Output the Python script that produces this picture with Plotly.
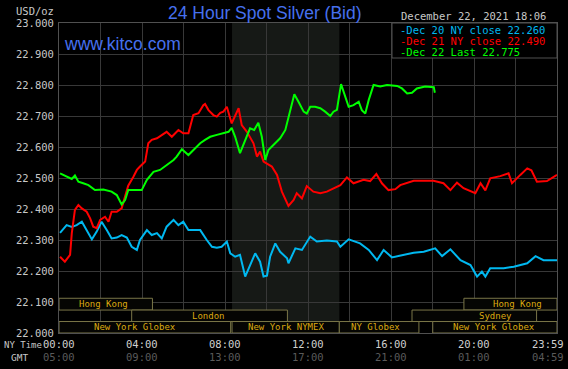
import plotly.graph_objects as go

# ---------------- data (minutes after 00:00 NY time, price USD/oz) ----------------
dec20_t = [3, 22, 37, 51, 66, 80, 95, 109, 123, 138, 152, 167, 181, 196, 210, 225, 234, 254, 268, 283,
           297, 311, 331, 345, 359, 374, 390, 408, 427, 442, 456, 470, 485, 495, 509, 523, 538, 552, 567,
           581, 591, 601, 610, 625, 639, 659, 663, 683, 702, 726, 745, 774, 803, 813, 837, 870, 895, 919,
           938, 962, 996, 1025, 1054, 1087, 1107, 1131, 1160, 1189, 1208, 1222, 1232, 1246, 1285, 1314,
           1353, 1377, 1400, 1439]
dec20_v = [22.323, 22.348, 22.342, 22.348, 22.359, 22.332, 22.302, 22.327, 22.359, 22.332, 22.305, 22.308,
           22.316, 22.308, 22.278, 22.268, 22.300, 22.332, 22.316, 22.322, 22.305, 22.343, 22.365, 22.348,
           22.359, 22.332, 22.332, 22.332, 22.300, 22.278, 22.275, 22.278, 22.295, 22.257, 22.246, 22.252,
           22.182, 22.219, 22.257, 22.230, 22.182, 22.185, 22.246, 22.289, 22.262, 22.241, 22.225, 22.273,
           22.268, 22.311, 22.295, 22.298, 22.295, 22.278, 22.302, 22.289, 22.268, 22.235, 22.268, 22.244,
           22.252, 22.259, 22.262, 22.273, 22.248, 22.270, 22.235, 22.219, 22.182, 22.198, 22.182, 22.209,
           22.209, 22.214, 22.225, 22.248, 22.235, 22.235]

dec21_t = [3, 17, 32, 37, 46, 56, 66, 80, 90, 99, 109, 119, 133, 143, 152, 167, 181, 191, 200, 215, 225,
           234, 249, 258, 268, 283, 297, 311, 326, 345, 359, 374, 388, 403, 417, 422, 432, 446, 456, 466,
           475, 485, 499, 519, 528, 543, 562, 572, 581, 591, 615, 630, 644, 663, 678, 687, 702, 716, 735,
           755, 774, 793, 813, 832, 851, 880, 899, 917, 933, 952, 972, 986, 1025, 1082, 1111, 1131, 1150,
           1169, 1203, 1218, 1232, 1246, 1275, 1299, 1309, 1333, 1353, 1365, 1381, 1410, 1439]
dec21_v = [22.246, 22.230, 22.252, 22.322, 22.397, 22.413, 22.402, 22.391, 22.370, 22.343, 22.338, 22.365,
           22.375, 22.359, 22.391, 22.391, 22.402, 22.445, 22.475, 22.504, 22.526, 22.537, 22.553, 22.612,
           22.623, 22.628, 22.639, 22.649, 22.633, 22.655, 22.644, 22.644, 22.703, 22.709, 22.735, 22.739,
           22.719, 22.703, 22.698, 22.710, 22.714, 22.730, 22.676, 22.725, 22.671, 22.649, 22.612, 22.569,
           22.585, 22.553, 22.537, 22.510, 22.456, 22.410, 22.429, 22.451, 22.434, 22.474, 22.456, 22.451,
           22.456, 22.467, 22.477, 22.502, 22.483, 22.494, 22.490, 22.513, 22.483, 22.461, 22.464, 22.477,
           22.491, 22.491, 22.483, 22.461, 22.485, 22.467, 22.451, 22.483, 22.460, 22.499, 22.506, 22.515,
           22.483, 22.510, 22.531, 22.525, 22.488, 22.490, 22.510]

dec22_t = [3, 22, 37, 46, 56, 70, 85, 104, 128, 152, 167, 181, 191, 200, 239, 254, 273, 292, 311, 331,
           340, 355, 374, 388, 408, 422, 437, 456, 475, 490, 499, 509, 523, 538, 552, 564, 576, 586, 596,
           605, 620, 639, 654, 668, 680, 692, 707, 716, 726, 740, 755, 769, 784, 793, 803, 815, 827, 837,
           851, 866, 875, 885, 895, 909, 928, 948, 977, 991, 1006, 1020, 1034, 1058, 1083, 1086]
dec22_v = [22.515, 22.505, 22.497, 22.508, 22.488, 22.483, 22.477, 22.461, 22.463, 22.456, 22.445, 22.415,
           22.429, 22.461, 22.461, 22.494, 22.520, 22.526, 22.542, 22.558, 22.569, 22.593, 22.574, 22.590,
           22.612, 22.623, 22.633, 22.639, 22.644, 22.649, 22.662, 22.633, 22.580, 22.623, 22.660, 22.655,
           22.678, 22.633, 22.558, 22.590, 22.606, 22.628, 22.655, 22.719, 22.770, 22.746, 22.714, 22.708,
           22.730, 22.730, 22.725, 22.714, 22.700, 22.714, 22.720, 22.803, 22.762, 22.730, 22.735, 22.746,
           22.719, 22.708, 22.752, 22.800, 22.795, 22.800, 22.797, 22.789, 22.773, 22.775, 22.789, 22.795,
           22.793, 22.775]

series_names = ["Dec 20 NY close 22.260", "Dec 21 NY close 22.490", "Dec 22 Last 22.775"]

y_ticks = [22.0, 22.1, 22.2, 22.3, 22.4, 22.5, 22.6, 22.7, 22.8, 22.9, 23.0]
x_grid = [0, 120, 240, 360, 480, 600, 720, 840, 960, 1080, 1200, 1320, 1439]
x_label_pos = [0, 240, 480, 720, 960, 1200, 1439]
ny_labels = ["00:00", "04:00", "08:00", "12:00", "16:00", "20:00", "23:59"]
gmt_labels = ["05:00", "09:00", "13:00", "17:00", "21:00", "01:00", "04:59"]

nymex_start, nymex_end = 500, 810

# sessions: name, start, end, row (0 top), label centre
sessions = [
    ("Hong Kong", 0, 270, 0, 130),
    ("Hong Kong", 1170, 1439, 0, 1325),
    ("London", 210, 660, 1, 431),
    ("Sydney", 1020, 1380, 1, 1261),
    ("New York Globex", 0, 496, 2, 221),
    ("New York NYMEX", 500, 810, 2, 655),
    ("NY Globex", 810, 1040, 2, 914),
    ("New York Globex", 1080, 1439, 2, 1258),
]
row_bounds = [(22.074, 22.112), (22.037, 22.074), (22.0, 22.037)]

# ---------------- styling ----------------
BG = "#000000"
GRID = "#383838"
MONO = "DejaVu Sans Mono"
LABEL = "#c8c8c8"
colors = ["#00b8f0", "#ff0000", "#00ff00"]

fig = go.Figure()
for t, v, c, n in zip([dec20_t, dec21_t, dec22_t], [dec20_v, dec21_v, dec22_v], colors, series_names):
    fig.add_trace(go.Scatter(x=t, y=v, mode="lines", line=dict(color=c, width=2), name=n,
                             showlegend=False, hoverinfo="skip"))

shapes = []
# NYMEX shaded region
shapes.append(dict(type="rect", xref="x", yref="y", x0=nymex_start, x1=nymex_end, y0=22.0, y1=23.0,
                   fillcolor="#161916", line=dict(width=0), layer="below"))
# session boxes
annotations = []
for name, s, e, row, lc in sessions:
    y0, y1 = row_bounds[row]
    shapes.append(dict(type="rect", xref="x", yref="y", x0=s, x1=e, y0=y0, y1=y1,
                       fillcolor="#050503", line=dict(color="#7a7648", width=1), layer="above"))
    annotations.append(dict(x=lc, y=(y0 + y1) / 2, xref="x", yref="y", text=name, showarrow=False,
                            font=dict(family=MONO, size=9, color="#dcaa10"), xanchor="center",
                            yanchor="middle"))

# legend box (paper coords)
W, H = 568, 369
L, R, T, B = 59, 11, 23, 36
pw, ph = W - L - R, H - T - B


def px(xp):
    return (xp - L) / pw


def py(yp):
    return 1 - (yp - T) / ph


shapes.append(dict(type="rect", xref="paper", yref="paper", x0=px(392), x1=1, y0=py(58), y1=1,
                   fillcolor=BG, line=dict(color="#505050", width=1), layer="above"))
for i, (n, c) in enumerate(zip(series_names, colors)):
    annotations.append(dict(x=px(398), y=py(30 + 11 * i), xref="paper", yref="paper", text="-" + n,
                            showarrow=False, xanchor="left", yanchor="middle",
                            font=dict(family=MONO, size=10.5, color=c)))

# titles & header texts
annotations += [
    dict(x=px(265), y=py(13), xref="paper", yref="paper", text="24 Hour Spot Silver (Bid)",
         showarrow=False, xanchor="center", yanchor="middle",
         font=dict(family="Liberation Sans", size=17.5, color="#4670ee")),
    dict(x=px(62), y=py(44), xref="paper", yref="paper", text="www.kitco.com", showarrow=False,
         xanchor="left", yanchor="middle", font=dict(family="Liberation Sans", size=17.5, color="#4670ee")),
    dict(x=px(56), y=py(11), xref="paper", yref="paper", text="USD/oz", showarrow=False,
         xanchor="right", yanchor="middle", font=dict(family=MONO, size=10.5, color=LABEL)),
    dict(x=px(548), y=py(16), xref="paper", yref="paper", text="December 22, 2021 18:06", showarrow=False,
         xanchor="right", yanchor="middle", font=dict(family=MONO, size=10.5, color=LABEL)),
    dict(x=px(2), y=py(345), xref="paper", yref="paper", text="NY Time", showarrow=False,
         xanchor="left", yanchor="middle", font=dict(family=MONO, size=9, color=LABEL)),
    dict(x=px(9), y=py(357), xref="paper", yref="paper", text="GMT", showarrow=False,
         xanchor="left", yanchor="middle", font=dict(family=MONO, size=9.5, color=LABEL)),
]
for i, (xv, a, g) in enumerate(zip(x_label_pos, ny_labels, gmt_labels)):
    last = i == len(x_label_pos) - 1
    for txt, yp, col in [(a, 344, "#d0d0d0"), (g, 357, "#5a5a5a")]:
        annotations.append(dict(x=xv, y=py(yp), xref="x", yref="paper", text=txt, showarrow=False,
                                xanchor="right" if last else "center", xshift=9 if last else 0,
                                yanchor="middle", font=dict(family=MONO, size=10.5, color=col)))

fig.update_layout(
    width=W, height=H, autosize=False,
    margin=dict(l=L, r=R, t=T, b=B, pad=0),
    paper_bgcolor=BG, plot_bgcolor=BG,
    shapes=shapes, annotations=annotations,
    showlegend=False,
    xaxis=dict(range=[0, 1439], tickvals=x_grid, showticklabels=False, showgrid=True, gridcolor=GRID,
               gridwidth=1, zeroline=False, showline=True, mirror=True, linecolor="#505050", ticks=""),
    yaxis=dict(range=[22.0, 23.0], tickvals=y_ticks, tickformat=".3f", showgrid=True, gridcolor=GRID,
               gridwidth=1, zeroline=False, showline=True, mirror=True, linecolor="#505050", ticks="",
               tickfont=dict(family=MONO, size=10.5, color=LABEL), ticklabelstandoff=2),
)

fig.write_html(
    "out.html",
    config={"displayModeBar": False, "staticPlot": True},
    post_script="document.body.style.margin='0';document.body.style.padding='0';"
                "document.body.style.background='#000';document.body.style.overflow='hidden';",
)
